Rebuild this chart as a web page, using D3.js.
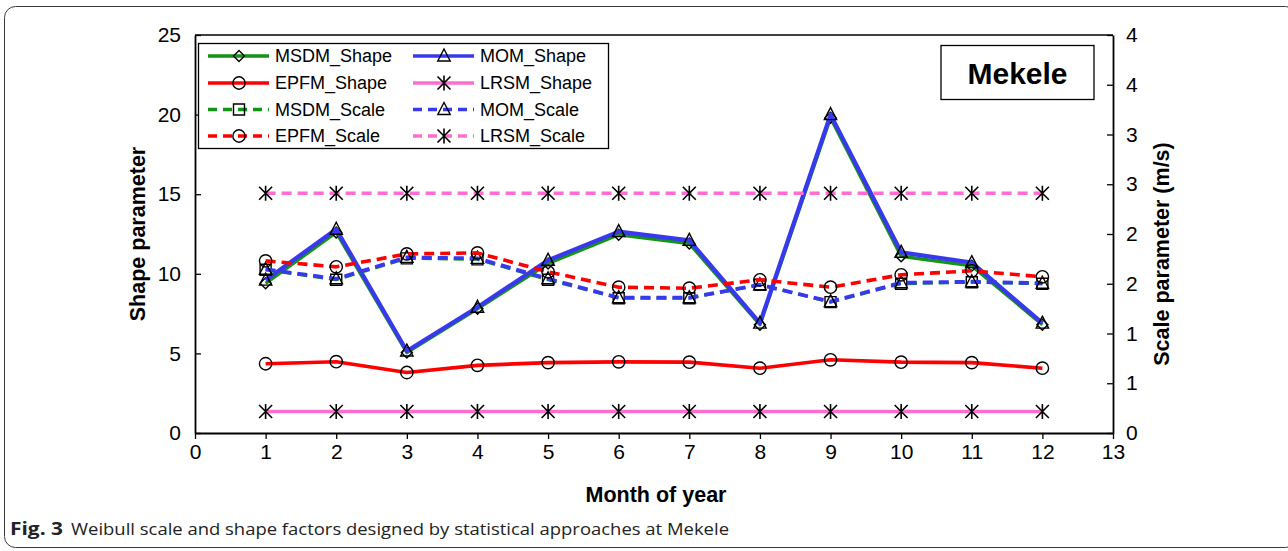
<!DOCTYPE html>
<html>
<head>
<meta charset="utf-8">
<script src="https://cdn.jsdelivr.net/npm/d3@7"></script>
<style>
  html, body { margin: 0; padding: 0; background: #fff; }
  svg { display: block; }
  text { font-family: "Liberation Sans", Arial, sans-serif; }
</style>
</head>
<body>
<svg id="chart" width="1288" height="551"></svg>
<script>
// Months of the year (x values)
const months = [1, 2, 3, 4, 5, 6, 7, 8, 9, 10, 11, 12];

// Shape parameter k (left axis)
const msdmShape = [9.4, 12.6, 5.05, 7.8, 10.65, 12.45, 11.9, 6.8, 19.8, 11.1, 10.5, 6.8];
const momShape  = [9.6, 12.8, 5.15, 7.9, 10.85, 12.65, 12.1, 6.9, 20.0, 11.35, 10.7, 6.9];
const epfmShape = [4.35, 4.48, 3.8, 4.25, 4.42, 4.47, 4.45, 4.07, 4.6, 4.45, 4.42, 4.07];
const lrsmShape = [1.35, 1.35, 1.35, 1.35, 1.35, 1.35, 1.35, 1.35, 1.35, 1.35, 1.35, 1.35];

// Scale parameter c in m/s (right axis)
const msdmScale = [1.64, 1.54, 1.755, 1.745, 1.54, 1.355, 1.355, 1.49, 1.315, 1.50, 1.515, 1.50];
const momScale  = [1.645, 1.55, 1.765, 1.755, 1.55, 1.36, 1.36, 1.49, 1.32, 1.51, 1.52, 1.505];
const epfmScale = [1.73, 1.67, 1.80, 1.81, 1.62, 1.465, 1.455, 1.54, 1.465, 1.59, 1.63, 1.57];
const lrsmScale = [2.41, 2.41, 2.41, 2.41, 2.41, 2.41, 2.41, 2.41, 2.41, 2.41, 2.41, 2.41];

// Axis ticks
const xTicks = [0, 1, 2, 3, 4, 5, 6, 7, 8, 9, 10, 11, 12, 13];
const leftTicks = [0, 5, 10, 15, 20, 25];
const rightTicks = [0, 0.5, 1, 1.5, 2, 2.5, 3, 3.5, 4];

const GREEN = "#149414", BLUE = "#3838ee", RED = "#ff0000", PINK = "#ff6ecf";

const series = [
  { name: "MSDM_Shape", values: msdmShape, axis: "L", color: GREEN, width: 3.4, dash: null, marker: "diamond" },
  { name: "MOM_Shape",  values: momShape,  axis: "L", color: BLUE,  width: 4.2, dash: null, marker: "triangle" },
  { name: "EPFM_Shape", values: epfmShape, axis: "L", color: RED,   width: 3.6, dash: null, marker: "circle" },
  { name: "LRSM_Shape", values: lrsmShape, axis: "L", color: PINK,  width: 3.6, dash: null, marker: "star" },
  { name: "MSDM_Scale", values: msdmScale, axis: "R", color: GREEN, width: 3.0, dash: "10,6", marker: "square" },
  { name: "MOM_Scale",  values: momScale,  axis: "R", color: BLUE,  width: 3.8, dash: "10,6", marker: "triangle" },
  { name: "EPFM_Scale", values: epfmScale, axis: "R", color: RED,   width: 3.6, dash: "10,6", marker: "circle" },
  { name: "LRSM_Scale", values: lrsmScale, axis: "R", color: PINK,  width: 3.6, dash: "10,6", marker: "star" }
];

const svg = d3.select("#chart");

// Figure frame with rounded corners
svg.append("rect")
  .attr("x", 4.5).attr("y", 6.5).attr("width", 1292).attr("height", 541)
  .attr("rx", 11).attr("fill", "none").attr("stroke", "#3a3a3a").attr("stroke-width", 1);

const plot = { left: 195, right: 1113, top: 35, bottom: 433 };

const x = d3.scaleLinear().domain([0, 13]).range([plot.left, plot.right]);
const yL = d3.scaleLinear().domain([0, 25]).range([plot.bottom, plot.top]);
const yR = d3.scaleLinear().domain([0, 4]).range([plot.bottom, plot.top]);

// Plot frame top edge
svg.append("line")
  .attr("x1", plot.left).attr("x2", plot.right)
  .attr("y1", plot.top).attr("y2", plot.top)
  .attr("stroke", "#000").attr("stroke-width", 1.6);

function styleAxis(g) {
  g.select(".domain").attr("stroke", "#000").attr("stroke-width", 1.8);
  g.selectAll(".tick line").attr("stroke", "#000").attr("stroke-width", 1.3);
  g.selectAll(".tick text")
    .attr("fill", "#000")
    .style("font-family", "'Liberation Sans', Arial, sans-serif")
    .style("font-size", "21px");
}

// Bottom axis
svg.append("g")
  .attr("transform", `translate(0,${plot.bottom})`)
  .call(d3.axisBottom(x).tickValues(xTicks).tickFormat(d3.format("d")).tickSizeInner(6).tickSizeOuter(0).tickPadding(5))
  .call(styleAxis);

// Left axis (ticks point inward)
svg.append("g")
  .attr("transform", `translate(${plot.left},0)`)
  .call(d3.axisLeft(yL).tickValues(leftTicks).tickFormat(d3.format("d")).tickSizeInner(-6).tickSizeOuter(0).tickPadding(14))
  .call(styleAxis);

// Right axis (ticks point inward, labels rounded to whole numbers)
svg.append("g")
  .attr("transform", `translate(${plot.right},0)`)
  .call(d3.axisRight(yR).tickValues(rightTicks).tickFormat(d => String(Math.round(d))).tickSizeInner(-6).tickSizeOuter(0).tickPadding(13))
  .call(styleAxis);

// Axis titles
svg.append("text")
  .attr("transform", `translate(137,${(plot.top + plot.bottom) / 2}) rotate(-90)`)
  .attr("text-anchor", "middle").attr("dy", "0.35em")
  .style("font-size", "21.5px").style("font-weight", "bold")
  .text("Shape parameter");

svg.append("text")
  .attr("transform", `translate(1161,254) rotate(-90)`)
  .attr("text-anchor", "middle").attr("dy", "0.35em")
  .style("font-size", "21.5px").style("font-weight", "bold")
  .text("Scale parameter (m/s)");

svg.append("text")
  .attr("x", (plot.left + plot.right) / 2 + 2).attr("y", 502)
  .attr("text-anchor", "middle")
  .style("font-size", "21.5px").style("font-weight", "bold")
  .text("Month of year");

// Marker shapes drawn as outline paths centred on (0,0)
function markerPath(type) {
  switch (type) {
    case "circle": return d3.symbol(d3.symbolCircle, 120)();
    case "square": return "M-5.5,-5.5H5.5V5.5H-5.5Z";
    case "triangle": return "M0,-7L6.2,5H-6.2Z";
    case "diamond": return "M0,-5.5L5.5,0L0,5.5L-5.5,0Z";
    case "star": return "M-6.5,-6.5L6.5,6.5M6.5,-6.5L-6.5,6.5M0,-7.5V7.5";
  }
}

function drawMarker(sel, type) {
  sel.append("path")
    .attr("d", markerPath(type))
    .attr("fill", "none")
    .attr("stroke", "#000")
    .attr("stroke-width", type === "star" ? 1.6 : 1.4);
}

// Series lines and markers
series.forEach(s => {
  const y = s.axis === "L" ? yL : yR;
  const pts = months.map((m, i) => [m, s.values[i]]);
  const line = d3.line().x(d => x(d[0])).y(d => y(d[1]));
  const g = svg.append("g").attr("class", "series");
  g.append("path")
    .attr("d", line(pts))
    .attr("fill", "none")
    .attr("stroke", s.color)
    .attr("stroke-width", s.width)
    .attr("stroke-dasharray", s.dash)
    .attr("stroke-linejoin", "round");
  g.selectAll("g.mk").data(pts).join("g")
    .attr("class", "mk")
    .attr("transform", d => `translate(${x(d[0])},${y(d[1])})`)
    .each(function () { drawMarker(d3.select(this), s.marker); });
});

// Legend
const legend = svg.append("g");
legend.append("rect")
  .attr("x", 198.5).attr("y", 43.5).attr("width", 410).attr("height", 105)
  .attr("fill", "#fff").attr("stroke", "#000").attr("stroke-width", 1.3);

const rowY = [56, 83, 109.5, 136];
const colX = [208, 413];
series.forEach((s, i) => {
  const col = i % 2, row = Math.floor(i / 2);
  const lx = colX[col], ly = rowY[row];
  const item = legend.append("g");
  item.append("line")
    .attr("x1", lx).attr("x2", lx + 61).attr("y1", ly).attr("y2", ly)
    .attr("stroke", s.color).attr("stroke-width", 3.6)
    .attr("stroke-dasharray", s.dash ? "9,6" : null);
  const mg = item.append("g").attr("transform", `translate(${lx + 31},${ly})`);
  drawMarker(mg, s.marker);
  item.append("text")
    .attr("x", lx + 67).attr("y", ly).attr("dy", "0.36em")
    .style("font-size", "18px")
    .text(s.name);
});

// Station label
svg.append("rect")
  .attr("x", 941).attr("y", 45.5).attr("width", 153).attr("height", 54)
  .attr("fill", "#fff").attr("stroke", "#000").attr("stroke-width", 1.3);
svg.append("text")
  .attr("x", 1017.5).attr("y", 73).attr("dy", "0.36em")
  .attr("text-anchor", "middle")
  .style("font-size", "30px").style("font-weight", "bold")
  .text("Mekele");

// Caption
const cap = svg.append("text").attr("y", 535)
  .style("font-family", "'Open Sans', 'Noto Sans', sans-serif").style("font-size", "17px").attr("fill", "#222");
cap.append("tspan").attr("x", 10).attr("textLength", 53).attr("lengthAdjust", "spacingAndGlyphs")
  .style("font-weight", "bold").text("Fig. 3");
cap.append("tspan").attr("x", 71).attr("textLength", 658).attr("lengthAdjust", "spacingAndGlyphs")
  .text("Weibull scale and shape factors designed by statistical approaches at Mekele");
</script>
</body>
</html>
